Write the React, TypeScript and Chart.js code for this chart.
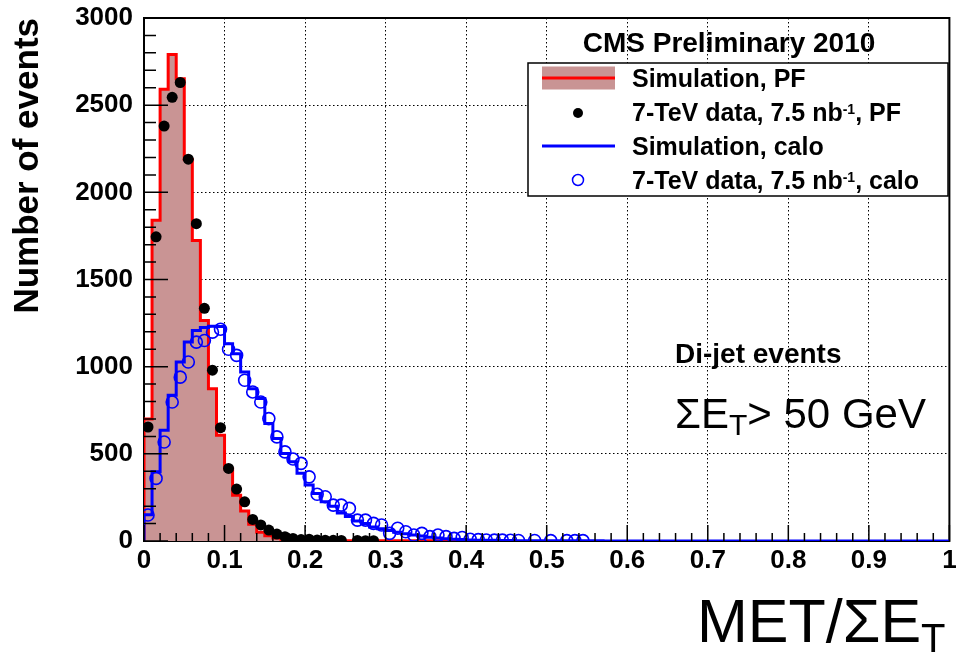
import React, { useEffect, useRef } from 'react';
import { Chart, registerables } from 'chart.js';

Chart.register(...registerables);

// ---------------- data ----------------
const BIN_WIDTH = 0.01;

// Simulation, PF (filled histogram), bins starting at 0.00
const simPF = [
  700, 1840, 2591, 2791, 2652, 2189, 1723, 1265, 874, 607,
  415, 263, 172, 96, 50, 30, 17, 10, 7, 5,
  4, 3, 3, 3, 2, 2, 2, 2, 2, 2,
  2, 2, 2, 2, 2, 2, 2, 1, 1, 1,
];

// 7-TeV data, PF (black dots), bin centres starting at 0.005
const dataPF: (number | null)[] = [
  654, 1745, 2380, 2545, 2630, 2190, 1820, 1335, 980, 650,
  416, 298, 225, 124, 92, 63, 40, 25, 15, 8,
  10, 6, 5, 4, 3, null, 3, 2, 2,
];

// Simulation, calo (blue line histogram), bins starting at 0.00
const simCalo = [
  150, 397, 635, 836, 1027, 1141, 1208, 1225, 1232, 1230,
  1131, 1074, 969, 874, 817, 674, 588, 502, 454, 388,
  321, 273, 225, 200, 160, 140, 115, 100, 80, 70,
  60, 50, 42, 35, 28, 22, 17, 13, 10, 8,
  6, 5, 4, 4, 3, 3, 2, 2, 2, 2,
  1, 1, 1, 1, 1, 1, 1,
];

// 7-TeV data, calo (blue open circles), bin centres starting at 0.005
const dataCalo: (number | null)[] = [
  149, 359, 568, 797, 940, 1027, 1141, 1150, 1198, 1215,
  1100, 1065, 922, 855, 797, 702, 597, 511, 470, 445,
  368, 268, 254, 206, 206, 187, 120, 120, 101, 92,
  44, 73, 53, 34, 44, 25, 34, 25, 15, 20,
  10, 8, 6, 5, 5, 4, 3, null, 3, null,
  2, null, 2, 2, 2,
];

const X_MIN = 0;
const X_MAX = 1;
const X_STEP = 0.1;
const X_MINOR = 0.02;
const Y_MIN = 0;
const Y_MAX = 3000;
const Y_STEP = 500;
const Y_MINOR = 100;

const legendTitle = 'CMS Preliminary 2010';
const legendRows = [
  [{ t: 'Simulation, PF' }],
  [{ t: '7-TeV data, 7.5 nb' }, { t: '-1', sup: true }, { t: ', PF' }],
  [{ t: 'Simulation, calo' }],
  [{ t: '7-TeV data, 7.5 nb' }, { t: '-1', sup: true }, { t: ', calo' }],
];
const selectionLabel = 'Di-jet events';
const cutLabel = [{ t: 'ΣE' }, { t: 'T', sub: true }, { t: '> 50 GeV' }];
const xTitle = [{ t: 'MET/ΣE' }, { t: 'T', sub: true }];
const yTitle = 'Number of events';

// ---------------- styles ----------------
const FONT = '"Liberation Sans", Arial, Helvetica, sans-serif';
const PINK = 'rgb(201,148,148)';
const RED = '#ff0000';
const BLUE = '#0000ff';

function histPoints(values: number[], xEnd?: number) {
  const pts: { x: number; y: number }[] = [{ x: 0, y: 0 }];
  values.forEach((v, i) => pts.push({ x: i * BIN_WIDTH, y: v }));
  pts.push({ x: values.length * BIN_WIDTH, y: 0 });
  if (xEnd !== undefined) pts.push({ x: xEnd, y: 0 });
  return pts;
}

function centerPoints(values: (number | null)[]) {
  return values.map((v, i) => ({ x: (i + 0.5) * BIN_WIDTH, y: v }));
}

type Part = { t: string; sup?: boolean; sub?: boolean };

function drawRich(
  ctx: CanvasRenderingContext2D,
  x: number,
  y: number,
  parts: Part[],
  size: number,
  weight: string,
  small: number,
  supDy: number,
  subDy: number
) {
  let cx = x;
  for (const p of parts) {
    const s = p.sup || p.sub ? small : size;
    ctx.font = `${weight} ${s}px ${FONT}`;
    const dy = p.sup ? supDy : p.sub ? subDy : 0;
    ctx.fillText(p.t, cx, y + dy);
    cx += ctx.measureText(p.t).width;
  }
}

const framePlugin = {
  id: 'frameBox',
  beforeDatasetsDraw(chart: any) {
    const { ctx, chartArea: a } = chart;
    ctx.save();
    ctx.strokeStyle = '#000';
    ctx.lineWidth = 2;
    ctx.strokeRect(a.left, a.top, a.right - a.left, a.bottom - a.top);
    ctx.restore();
  },
};

const ticksPlugin = {
  id: 'innerTicks',
  afterDatasetsDraw(chart: any) {
    const { ctx, chartArea: a, scales } = chart;
    const x = scales.x;
    const y = scales.y;
    ctx.save();
    ctx.strokeStyle = '#000';
    ctx.lineWidth = 1.5;
    ctx.beginPath();
    const nx = Math.round((X_MAX - X_MIN) / X_MINOR);
    const perMajorX = Math.round(X_STEP / X_MINOR);
    for (let i = 0; i <= nx; i++) {
      const px = x.getPixelForValue(X_MIN + i * X_MINOR);
      const len = i % perMajorX === 0 ? 16 : 8;
      ctx.moveTo(px, a.bottom);
      ctx.lineTo(px, a.bottom - len);
    }
    const ny = Math.round((Y_MAX - Y_MIN) / Y_MINOR);
    const perMajorY = Math.round(Y_STEP / Y_MINOR);
    for (let i = 0; i <= ny; i++) {
      const py = y.getPixelForValue(Y_MIN + i * Y_MINOR);
      const len = i % perMajorY === 0 ? 24 : 12;
      ctx.moveTo(a.left, py);
      ctx.lineTo(a.left + len, py);
    }
    ctx.stroke();
    ctx.restore();
  },
};

const annotationPlugin = {
  id: 'annotations',
  afterDatasetsDraw(chart: any) {
    const ctx: CanvasRenderingContext2D = chart.ctx;
    ctx.save();
    ctx.fillStyle = '#000';
    ctx.textBaseline = 'alphabetic';

    // header
    ctx.textAlign = 'center';
    ctx.font = `bold 28px ${FONT}`;
    ctx.fillText(legendTitle, 729, 52);
    ctx.textAlign = 'left';

    // legend box
    const bx = 528, by = 63, bw = 420, bh = 133;
    ctx.fillStyle = '#fff';
    ctx.fillRect(bx, by, bw, bh);
    ctx.strokeStyle = '#000';
    ctx.lineWidth = 1.5;
    ctx.strokeRect(bx, by, bw, bh);

    const rowsY = [78, 112, 146, 180];
    const symX0 = 542, symX1 = 615, symXC = 578;
    // row 1: filled histogram
    ctx.fillStyle = PINK;
    ctx.fillRect(symX0, rowsY[0] - 11.5, symX1 - symX0, 23);
    ctx.strokeStyle = RED;
    ctx.lineWidth = 3;
    ctx.beginPath();
    ctx.moveTo(symX0, rowsY[0]);
    ctx.lineTo(symX1, rowsY[0]);
    ctx.stroke();
    // row 2: black dot
    ctx.fillStyle = '#000';
    ctx.beginPath();
    ctx.arc(symXC, rowsY[1] + 1, 5, 0, Math.PI * 2);
    ctx.fill();
    // row 3: blue line
    ctx.strokeStyle = BLUE;
    ctx.lineWidth = 3;
    ctx.beginPath();
    ctx.moveTo(symX0, rowsY[2]);
    ctx.lineTo(symX1, rowsY[2]);
    ctx.stroke();
    // row 4: open blue circle
    ctx.lineWidth = 1.5;
    ctx.beginPath();
    ctx.arc(symXC, rowsY[3], 5.5, 0, Math.PI * 2);
    ctx.stroke();

    ctx.fillStyle = '#000';
    legendRows.forEach((row, i) => {
      drawRich(ctx, 632, rowsY[i] + 9, row, 25, 'bold', 14, -7, 0);
    });

    // text annotations
    ctx.font = `bold 28px ${FONT}`;
    ctx.fillText(selectionLabel, 675, 363);
    drawRich(ctx, 675, 428, cutLabel, 42, 'normal', 30, 0, 7);

    // x-axis title
    drawRich(ctx, 697, 642, xTitle, 61, 'normal', 40, 0, 10);

    ctx.restore();
  },
};

export default function App() {
  const ref = useRef<HTMLCanvasElement | null>(null);

  useEffect(() => {
    if (!ref.current) return;
    const chart = new Chart(ref.current, {
      type: 'line',
      data: {
        datasets: [
          {
            label: 'Simulation, PF',
            data: histPoints(simPF),
            borderColor: RED,
            borderWidth: 3,
            backgroundColor: PINK,
            fill: 'origin',
            pointRadius: 0,
            stepped: true,
            order: 4,
          },
          {
            label: 'Simulation, calo',
            data: histPoints(simCalo, X_MAX),
            borderColor: BLUE,
            borderWidth: 3,
            backgroundColor: 'rgba(0,0,0,0)',
            fill: false,
            pointRadius: 0,
            stepped: true,
            order: 3,
          },
          {
            label: '7-TeV data, 7.5 nb-1, PF',
            data: centerPoints(dataPF),
            showLine: false,
            pointRadius: 5.5,
            pointBackgroundColor: '#000',
            pointBorderColor: '#000',
            pointBorderWidth: 0,
            order: 2,
          },
          {
            label: '7-TeV data, 7.5 nb-1, calo',
            data: centerPoints(dataCalo),
            showLine: false,
            pointRadius: 6,
            pointBackgroundColor: 'rgba(0,0,0,0)',
            pointBorderColor: BLUE,
            pointBorderWidth: 1.6,
            order: 1,
          },
        ] as any,
      },
      options: {
        responsive: false,
        animation: false,
        events: [],
        layout: { padding: { top: 18, right: 5, left: 0, bottom: 0 } },
        plugins: { legend: { display: false }, tooltip: { enabled: false } },
        scales: {
          x: {
            type: 'linear',
            min: X_MIN,
            max: X_MAX,
            afterFit: (s: any) => {
              s.height = 112;
              s.paddingLeft = 0;
              s.paddingRight = 0;
            },
            ticks: {
              stepSize: X_STEP,
              autoSkip: false,
              maxRotation: 0,
              minRotation: 0,
              padding: 4,
              color: '#000',
              font: { family: FONT, size: 26, weight: 'bold' },
              callback: (v: any) => String(parseFloat(Number(v).toFixed(2))),
            },
            grid: { color: '#000', lineWidth: 1, drawTicks: false },
            border: { display: true, color: '#000', width: 2, dash: [1.5, 2.5] },
          },
          y: {
            type: 'linear',
            min: Y_MIN,
            max: Y_MAX,
            afterFit: (s: any) => {
              s.width = 144;
              s.paddingTop = 0;
              s.paddingBottom = 0;
            },
            ticks: {
              stepSize: Y_STEP,
              padding: 11,
              color: '#000',
              font: { family: FONT, size: 26, weight: 'bold' },
              callback: (v: any) => String(v),
            },
            title: {
              display: true,
              text: yTitle,
              align: 'end',
              color: '#000',
              font: { family: FONT, size: 35, weight: 'bold' },
              padding: { top: 7, bottom: 0 },
            },
            grid: { color: '#000', lineWidth: 1, drawTicks: false },
            border: { display: true, color: '#000', width: 2, dash: [1.5, 2.5] },
          },
        },
      } as any,
      plugins: [framePlugin, ticksPlugin, annotationPlugin],
    });
    return () => chart.destroy();
  }, []);

  return (
    <div style={{ position: 'fixed', left: 0, top: 0, width: 957, height: 653, background: '#fff' }}>
      <canvas ref={ref} width={957} height={653} style={{ display: 'block' }} />
    </div>
  );
}
